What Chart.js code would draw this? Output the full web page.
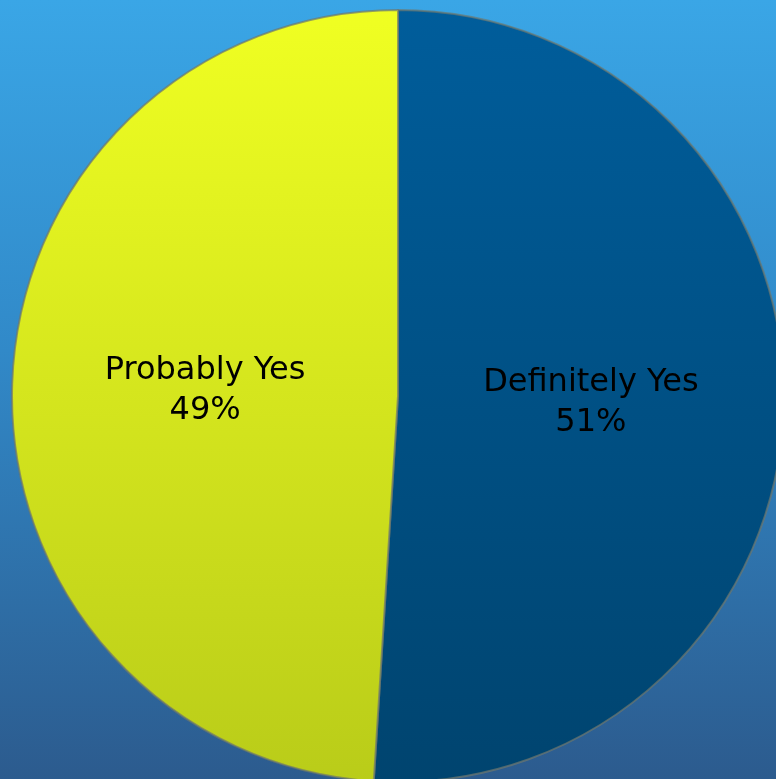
<!DOCTYPE html>
<html lang="en">
<head>
    <meta charset="UTF-8">
    <title>Pie</title>
    <script src="https://cdn.jsdelivr.net/npm/chart.js"></script>
    <style>
        html, body { margin: 0; padding: 0; width: 776px; height: 779px; overflow: hidden; }
        body { background: linear-gradient(to bottom, #3aa6e6 0%, #3189c8 45%, #2c5b8e 100%); position: relative; }
        #myChart { position: absolute; left: 11px; top: 9px; }
    </style>
</head>
<body>
    <canvas id="myChart" width="774" height="774"></canvas>
    <script>
        // du lieu
        var labels = ['Definitely Yes', 'Probably Yes'];
        var values = [51, 49];
        var topColors = ['#005d9b', '#f0ff22'];
        var bottomColors = ['#00446f', '#b9cc19'];

        function sliceFill(context) {
            var chart = context.chart;
            var area = chart.chartArea;
            if (!area) return topColors[context.dataIndex];
            var g = chart.ctx.createLinearGradient(0, area.top, 0, area.bottom);
            g.addColorStop(0, topColors[context.dataIndex]);
            g.addColorStop(1, bottomColors[context.dataIndex]);
            return g;
        }

        // ve nhan o giua moi mieng
        var labelPlugin = {
            id: 'sliceLabels',
            afterDatasetsDraw: function (chart) {
                var ctx = chart.ctx;
                var meta = chart.getDatasetMeta(0);
                ctx.save();
                ctx.fillStyle = '#000';
                ctx.font = '32px "DejaVu Sans"';
                ctx.textAlign = 'center';
                ctx.textBaseline = 'middle';
                meta.data.forEach(function (arc, i) {
                    var p = arc.getCenterPoint();
                    ctx.fillText(labels[i], p.x, p.y - 19);
                    ctx.fillText(values[i] + '%', p.x, p.y + 21);
                });
                ctx.restore();
            }
        };

        var ctx = document.getElementById('myChart').getContext('2d');
        var myChart = new Chart(ctx, {
            type: 'pie',
            data: {
                labels: labels,
                datasets: [{
                    data: values,
                    backgroundColor: sliceFill,
                    borderColor: 'rgba(110,120,110,0.7)',
                    borderWidth: 2,
                    hoverOffset: 0
                }]
            },
            options: {
                responsive: false,
                animation: false,
                layout: { padding: 0 },
                plugins: {
                    legend: { display: false },
                    tooltip: { enabled: false }
                }
            },
            plugins: [labelPlugin]
        });
    </script>
</body>
</html>
